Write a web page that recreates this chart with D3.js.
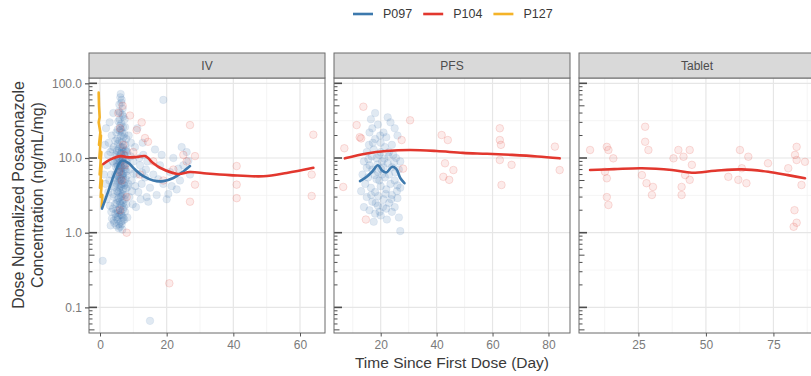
<!DOCTYPE html>
<html>
<head>
<meta charset="utf-8">
<script src="https://cdn.jsdelivr.net/npm/d3@7"></script>
<style>
  body { margin: 0; background: #fff; }
  svg { display: block; font-family: "Liberation Sans", Arial, sans-serif; }
</style>
</head>
<body>
<svg id="chart" width="811" height="376"></svg>
<script>
// series + panels
const seriesNames = ['P097', 'P104', 'P127'];
const seriesColors = { P097: '#3d79ad', P104: '#e2372e', P127: '#f4b328' };
const panelNames = ['IV', 'PFS', 'Tablet'];

// axis ticks
const xTicks = { IV: [0, 20, 40, 60], PFS: [20, 40, 60, 80], Tablet: [25, 50, 75] };
const xMinorTicks = { IV: [10, 30, 50], PFS: [10, 30, 50, 70], Tablet: [12.5, 37.5, 62.5, 87.5] };
const xDomains = { IV: [-3.3, 67.5], PFS: [3.3, 87.7], Tablet: [3, 90.4] };
const yTicks = [0.1, 1, 10, 100];
const yTickLabels = ['0.1', '1.0', '10.0', '100.0'];
const yMinorTicks = [0.316, 3.16, 31.6];
const yDomain = [0.0454, 117.8];

// observations [day, concentration]
const ivP097 = [
  [6.2,72],[6.5,60],[5.8,52],[6.8,46],[6.1,40],[7.0,36],[5.5,31],[6.4,29],[6.9,26],[5.9,23],[7.3,21],[6.3,19.5],
  [5.2,18],[6.7,16.5],[7.6,15],[6.0,14.2],[5.6,13.3],[6.6,12.6],[7.1,12],[6.2,11.2],[5.0,10.5],[6.9,10],[7.8,9.6],
  [5.4,9.2],[6.4,8.9],[5.9,8.5],[7.2,8.2],[6.1,7.9],[4.8,7.6],[6.6,7.3],[7.5,7],[5.7,6.8],[6.3,6.5],[7.0,6.2],
  [4.6,6],[5.3,5.8],[6.8,5.5],[7.7,5.2],[6.0,5],[5.5,4.8],[6.5,4.5],[7.3,4.3],[4.4,4.1],[5.9,4],[6.9,3.8],[5.1,3.6],
  [6.2,3.4],[7.6,3.2],[4.2,3],[5.6,2.9],[6.7,2.7],[5.0,2.5],[6.1,2.4],[7.2,2.2],[3.9,2.1],[5.4,2],[6.4,1.9],[4.6,1.8],
  [5.8,1.7],[7.0,1.6],[3.6,1.55],[5.2,1.5],[6.3,1.4],[4.3,1.35],[5.7,1.3],[3.2,1.25],[6.0,1.2],[4.8,1.6],[6.8,1.45],
  [6.4,55],[5.7,42],[7.4,33],[6.0,27],[5.3,24],[6.6,22],[7.9,18],[5.8,17],[6.9,14],[5.1,12.5],[6.3,11.5],[7.4,10.8],
  [5.6,10],[6.7,9.3],[5.0,8.7],[7.0,8],[6.4,7.5],[5.2,7],[7.9,6.6],[6.6,6],[5.8,5.6],[7.1,5.1],[4.9,4.6],[6.3,4.2],
  [7.8,3.9],[5.4,3.5],[6.5,3.1],[7.4,2.8],[5.9,2.6],[4.5,2.4],[6.9,2.05],[5.5,1.85],[6.6,1.7],[7.5,1.9],
  [6.1,65],[6.7,38],[5.9,33],[6.3,24],[7.1,19],[5.4,15.5],[6.5,13.8],[7.7,12.4],[5.8,11.8],[6.8,9.8],[6.0,9.1],
  [5.3,8],[7.4,7.6],[6.2,7.1],[5.6,6.4],[6.9,5.9],[6.3,5.3],[5.1,5.1],[7.2,4.7],[6.0,4.4],[5.7,3.7],[6.8,3.3],
  [6.3,3],[5.2,2.75],[7.0,2.5],[6.5,2.3],[5.9,2.15],[4.9,2],[6.2,1.75],[5.3,1.62],[7.3,1.5],[6.5,1.3],[4.9,1.25],
  [5.6,1.15],[6.7,1.1],[4.1,1.45],[3.4,1.9],[3.9,3.3],[4.5,5.3],[4.3,8.5],[4.7,11],[3.7,13],[4.6,17],[4.9,22],
  [7.5,26],[7.9,13],[8.1,8.6],[8.0,5.8],[8.3,4.1],[7.9,2.4],[8.2,1.6],
  [1.5,15],[2.2,8],[2.8,5],[3.1,12],[3.5,20],[2.5,3.5],[1.8,25],[3.8,9],[4.0,40],[2.0,2.8],[3.3,6],[4.1,14],
  [2.9,30],[3.6,4.2],[1.2,6],[0.8,0.42],[2.4,11],[3.0,2.3],[2.6,16],[1.7,4.5],
  [8.2,12],[8.6,20],[9.0,7],[9.5,5],[10.0,9],[10.5,14],[11.0,6],[11.5,3.5],[12.0,8],[12.5,4.5],[13.0,11],[13.5,5.5],
  [14.0,3],[8.8,3],[9.8,2.4],[10.8,2.2],[12.2,2.8],[13.8,7],[14.5,2.6],[8.5,4.5],[9.3,16],[11.2,25],[12.8,16],
  [9.2,10.5],[10.2,6.2],[11.8,10],[9.6,3.6],[10.6,4.2],[12.6,6.4],[14.2,9],
  [15,4],[16,6],[17,3.2],[18,8],[19,4.5],[20,2.8],[21,6.5],[22,10],[23,3.8],[24,5],[25,8],[26,12],[27,6],
  [16.5,13],[20.5,3.3],[19,60],[18.5,11],[24.5,14],[15,0.066],[17.5,5.2],[21.5,4.2],[23.5,7.2],[26.5,9.2]
];
const ivP104 = [
  [9,37],[12.5,30],[13.5,18.5],[14.4,16.5],[11,23.6],[27,27.6],[28.5,10.6],[28.5,4.4],[41,7.8],[41,4.4],[41,2.9],
  [64,20.5],[63.5,6],[63.5,3.1],[25,11],[27,2.6],[8,1.0],[20.8,0.21],[6,25],[7,15],[5.5,40],[7.5,8],[6.5,5],
  [8,3],[6,2],[6.8,50],[7.2,11],[5.8,6.5],[10,12],[12,6],[16,9],[19,5],[22,7],[26,9]
];
const pfsP097 = [
  [16.5,33],[17,25],[19,28],[21,22],[23.5,30],[25,25],[18,18],[20,16],[22,19],[24,15],[26,20],[15,12],[17.5,13],
  [19.5,11],[21.5,14],[23,12],[25.5,10],[27,9],[14,9],[16,8],[18.5,10],[20.5,9],[22.5,8.5],[24.5,11],[26.5,7],
  [13.5,6],[15.5,5.5],[17,7],[19,6.5],[21,7.5],[23,6],[25,5],[27,4],[14.5,4.5],[16.5,4],[18,3.5],[20,4.2],[22,3.8],
  [24,3.2],[26,2.9],[15,3],[17,2.6],[19,2.3],[21,2.8],[23,2.5],[25,2.2],[16,2.0],[18,1.8],[20,1.7],[22,2.1],
  [24,1.9],[26.5,1.6],[14,2.2],[17.5,1.4],[27,1.05],[19.5,5],[21.5,5.5],[23.5,4.5],[13,3.6],[15.8,15],[20,12],
  [18,40],[22.5,35],[16,22],[24,7.5],[20.5,6],[18.5,5.2],[26,4.3],[15,7.4],
  [17.2,16],[19.8,20],[21.3,9.8],[18.8,8.2],[16.8,10.5],[22.8,10.5],[24.8,8.7],[20.2,7.1],[17.8,5.9],[15.6,9.6],
  [19.2,3.1],[21.8,3.3],[23.8,2.8],[25.8,3.6],[18.2,2.5],[20.8,2.2],[16.6,3.2],[22.2,1.5],[19.6,1.9],[25.2,6.4]
];
const pfsP104 = [
  [13.8,48.6],[11.4,27.6],[13,18.3],[7,13.5],[30.5,32],[27.5,17.4],[41.8,20.3],[44,17.4],[43,8.5],[42.4,5.6],
  [46,6.9],[62.6,25],[62.6,17.4],[63,15],[62.6,9.4],[66.8,8.1],[63.2,4.35],[82.3,14.2],[84,6.9],[6.6,4.1],
  [14.7,1.5],[44.5,5.1],[28,7.2],[12.5,19]
];
const tabletP104 = [
  [7.1,12.8],[13.3,14.1],[13.9,12.8],[15.7,9.9],[12.6,6.55],[13.3,5.35],[27.5,26.2],[27.5,16.5],[28.7,12.8],
  [26.3,5.9],[28,4.6],[30.4,4.1],[38,9.9],[39.8,12.8],[41.7,10.4],[44,12.8],[44.8,8.1],[42.3,5.9],[44,5.1],
  [41,4.1],[62.6,12.8],[65.7,10.4],[63.3,7.3],[62,5.1],[65,4.6],[58.3,5.6],[73,8.5],[80.5,7.3],[83.6,14.1],
  [83,11],[83.6,9.4],[86.7,8.9],[85.4,4.35],[13.3,3.0],[13.9,2.35],[30,3.2],[41,3.2],[82.8,2.0],[83.6,1.36],
  [82.5,1.2]
];

// smoothed fits [day, concentration]
const ivP097Fit = [[0.6,2.1],[2.5,3.6],[4.5,6.4],[6.5,9.2],[8.5,8.6],[10.5,7],[13,5.7],[16,5],[19,4.9],[22,5.4],
  [25,6.6],[27,7.8]];
const ivP104Fit = [[1,8.3],[3,9.5],[6.3,10.6],[8.5,10.2],[11,10.3],[13.5,10.6],[16,8.5],[18,7.4],[23.4,6.1],
  [27,6.5],[32,6.2],[39,5.9],[49,5.7],[56,6.3],[64,7.4]];
const ivP127Fit = [[-0.4,75],[-0.3,50],[-0.1,35],[-0.4,30],[0.1,22],[-0.3,15],[0.3,20],[-0.2,10],[0.4,12],
  [-0.1,6],[0.5,8],[0.0,4],[0.6,5],[0.2,3],[0.7,3.2],[0.5,2.2]];
const pfsP097Fit = [[12.6,4.9],[15,5.6],[17,6.6],[19,8.0],[20.5,6.8],[22,6.4],[24,7.6],[25.5,7.2],[27,5.4],[28.5,4.6]];
const pfsP104Fit = [[7.2,9.9],[15,11.5],[22,12.4],[30.5,12.8],[40,12.4],[49.4,11.7],[58,11.4],[67,11],[76,10.5],[84,9.9]];
const tabletP104Fit = [[7.1,6.9],[16,7.1],[26.3,7.3],[37.4,6.9],[44.8,6.35],[53.4,6.75],[63.3,7.05],[73.1,6.55],
  [80.4,5.9],[86.7,5.35]];

const panelData = {
  IV: { points: [['P097', ivP097], ['P104', ivP104]],
        fits: [['P127', ivP127Fit], ['P097', ivP097Fit], ['P104', ivP104Fit]] },
  PFS: { points: [['P097', pfsP097], ['P104', pfsP104]],
         fits: [['P097', pfsP097Fit], ['P104', pfsP104Fit]] },
  Tablet: { points: [['P104', tabletP104]],
            fits: [['P104', tabletP104Fit]] }
};

const svg = d3.select('#chart');
const panelLeft = [89, 334, 579];
const panelW = 236;
const stripTop = 53, panelTop = 78, panelBottom = 333;

const y = d3.scaleLog().domain(yDomain).range([panelBottom, panelTop]);

// log tick positions for annotation ticks
const logTicks = [];
for (let e = -2; e <= 2; e++) {
  for (let k = 1; k <= 9; k++) {
    const v = k * Math.pow(10, e);
    if (v >= yDomain[0] && v <= yDomain[1]) logTicks.push({ v, k });
  }
}

panelNames.forEach((name, i) => {
  const x0 = panelLeft[i];
  const x = d3.scaleLinear().domain(xDomains[name]).range([x0, x0 + panelW]);
  const g = svg.append('g');

  g.append('clipPath').attr('id', 'clip-' + name)
    .append('rect').attr('x', x0).attr('y', panelTop).attr('width', panelW).attr('height', panelBottom - panelTop);

  // background
  g.append('rect').attr('x', x0).attr('y', panelTop).attr('width', panelW)
    .attr('height', panelBottom - panelTop).attr('fill', '#fff');

  // grid
  const grid = g.append('g').attr('clip-path', `url(#clip-${name})`);
  grid.selectAll('.xmin').data(xMinorTicks[name]).enter().append('line')
    .attr('x1', d => x(d)).attr('x2', d => x(d)).attr('y1', panelTop).attr('y2', panelBottom)
    .attr('stroke', '#f2f2f2').attr('stroke-width', 0.8);
  grid.selectAll('.ymin').data(yMinorTicks).enter().append('line')
    .attr('x1', x0).attr('x2', x0 + panelW).attr('y1', d => y(d)).attr('y2', d => y(d))
    .attr('stroke', '#f2f2f2').attr('stroke-width', 0.8);
  grid.selectAll('.xmaj').data(xTicks[name]).enter().append('line')
    .attr('x1', d => x(d)).attr('x2', d => x(d)).attr('y1', panelTop).attr('y2', panelBottom)
    .attr('stroke', '#e6e6e6').attr('stroke-width', 1.2);
  grid.selectAll('.ymaj').data(yTicks).enter().append('line')
    .attr('x1', x0).attr('x2', x0 + panelW).attr('y1', d => y(d)).attr('y2', d => y(d))
    .attr('stroke', '#e6e6e6').attr('stroke-width', 1.2);

  // points
  const pts = g.append('g').attr('clip-path', `url(#clip-${name})`);
  panelData[name].points.forEach(([s, arr]) => {
    pts.selectAll(null).data(arr).enter().append('circle')
      .attr('cx', d => x(d[0])).attr('cy', d => y(d[1])).attr('r', 3.8)
      .attr('fill', seriesColors[s]).attr('fill-opacity', s === 'P097' ? 0.16 : 0.1)
      .attr('stroke', seriesColors[s]).attr('stroke-opacity', s === 'P097' ? 0.1 : 0.2)
      .attr('stroke-width', 0.8);
  });

  // smooth lines
  const fitLine = d3.line().x(d => x(d[0])).y(d => y(d[1]));
  panelData[name].fits.forEach(([s, arr]) => {
    pts.append('path').datum(arr)
      .attr('d', fitLine.curve(s === 'P127' ? d3.curveLinear : d3.curveCatmullRom.alpha(0.5)))
      .attr('fill', 'none').attr('stroke', seriesColors[s])
      .attr('stroke-width', 2.6)
      .attr('stroke-linejoin', 'round').attr('stroke-linecap', 'round');
  });

  // log ticks inside left edge
  g.selectAll('.lt').data(logTicks).enter().append('line')
    .attr('x1', x0).attr('x2', d => x0 + (d.k === 1 ? 8 : d.k === 5 ? 5.5 : 3.5))
    .attr('y1', d => y(d.v)).attr('y2', d => y(d.v))
    .attr('stroke', '#4d4d4d').attr('stroke-width', d => d.k === 1 ? 1.6 : 1);

  // panel border
  g.append('rect').attr('x', x0).attr('y', panelTop).attr('width', panelW)
    .attr('height', panelBottom - panelTop).attr('fill', 'none').attr('stroke', '#6b6b6b').attr('stroke-width', 1);

  // strip
  g.append('rect').attr('x', x0).attr('y', stripTop).attr('width', panelW).attr('height', panelTop - stripTop)
    .attr('fill', '#d9d9d9').attr('stroke', '#6b6b6b').attr('stroke-width', 1);
  g.append('text').attr('x', x0 + panelW / 2).attr('y', (stripTop + panelTop) / 2).attr('dy', '0.35em')
    .attr('text-anchor', 'middle').attr('font-size', 12).attr('fill', '#4d4d4d').text(name);

  // x axis
  const xAxis = g.append('g').attr('transform', `translate(0,${panelBottom})`)
    .call(d3.axisBottom(x).tickValues(xTicks[name]).tickSize(3.5).tickPadding(4));
  xAxis.select('.domain').remove();
  xAxis.selectAll('line').attr('stroke', '#555');
  xAxis.selectAll('text').attr('font-size', 12).attr('fill', '#7a7a7a')
    .attr('font-family', '"Liberation Sans", Arial, sans-serif');

  // y axis on first panel only
  if (i === 0) {
    const yAxis = g.append('g').attr('transform', `translate(${x0},0)`)
      .call(d3.axisLeft(y).tickValues(yTicks).tickSize(4).tickPadding(3)
        .tickFormat((d, j) => yTickLabels[j]));
    yAxis.select('.domain').remove();
    yAxis.selectAll('line').attr('stroke', '#555').attr('stroke-width', 1.2);
    yAxis.selectAll('text').attr('font-size', 12).attr('fill', '#7a7a7a')
      .attr('font-family', '"Liberation Sans", Arial, sans-serif');
  }
});

// axis titles
svg.append('text').attr('x', 452).attr('y', 368).attr('text-anchor', 'middle')
  .attr('font-size', 15.5).attr('fill', '#3a3a3a').text('Time Since First Dose (Day)');
const yt = svg.append('text').attr('transform', 'translate(0,195) rotate(-90)')
  .attr('text-anchor', 'middle').attr('font-size', 16).attr('fill', '#3a3a3a');
yt.append('tspan').attr('x', 0).attr('y', 24).text('Dose Normalized Posaconazole');
yt.append('tspan').attr('x', 0).attr('y', 43).text('Concentration (ng/mL/mg)');

// legend
const legend = svg.append('g');
let lx = 353;
seriesNames.forEach(s => {
  legend.append('line').attr('x1', lx).attr('x2', lx + 20).attr('y1', 14).attr('y2', 14)
    .attr('stroke', seriesColors[s]).attr('stroke-width', 2.6);
  const t = legend.append('text').attr('x', lx + 30).attr('y', 14).attr('dy', '0.35em')
    .attr('font-size', 12.5).attr('fill', '#3a3a3a').text(s);
  lx += 30 + t.node().getComputedTextLength() + 11;
});
</script>
</body>
</html>
